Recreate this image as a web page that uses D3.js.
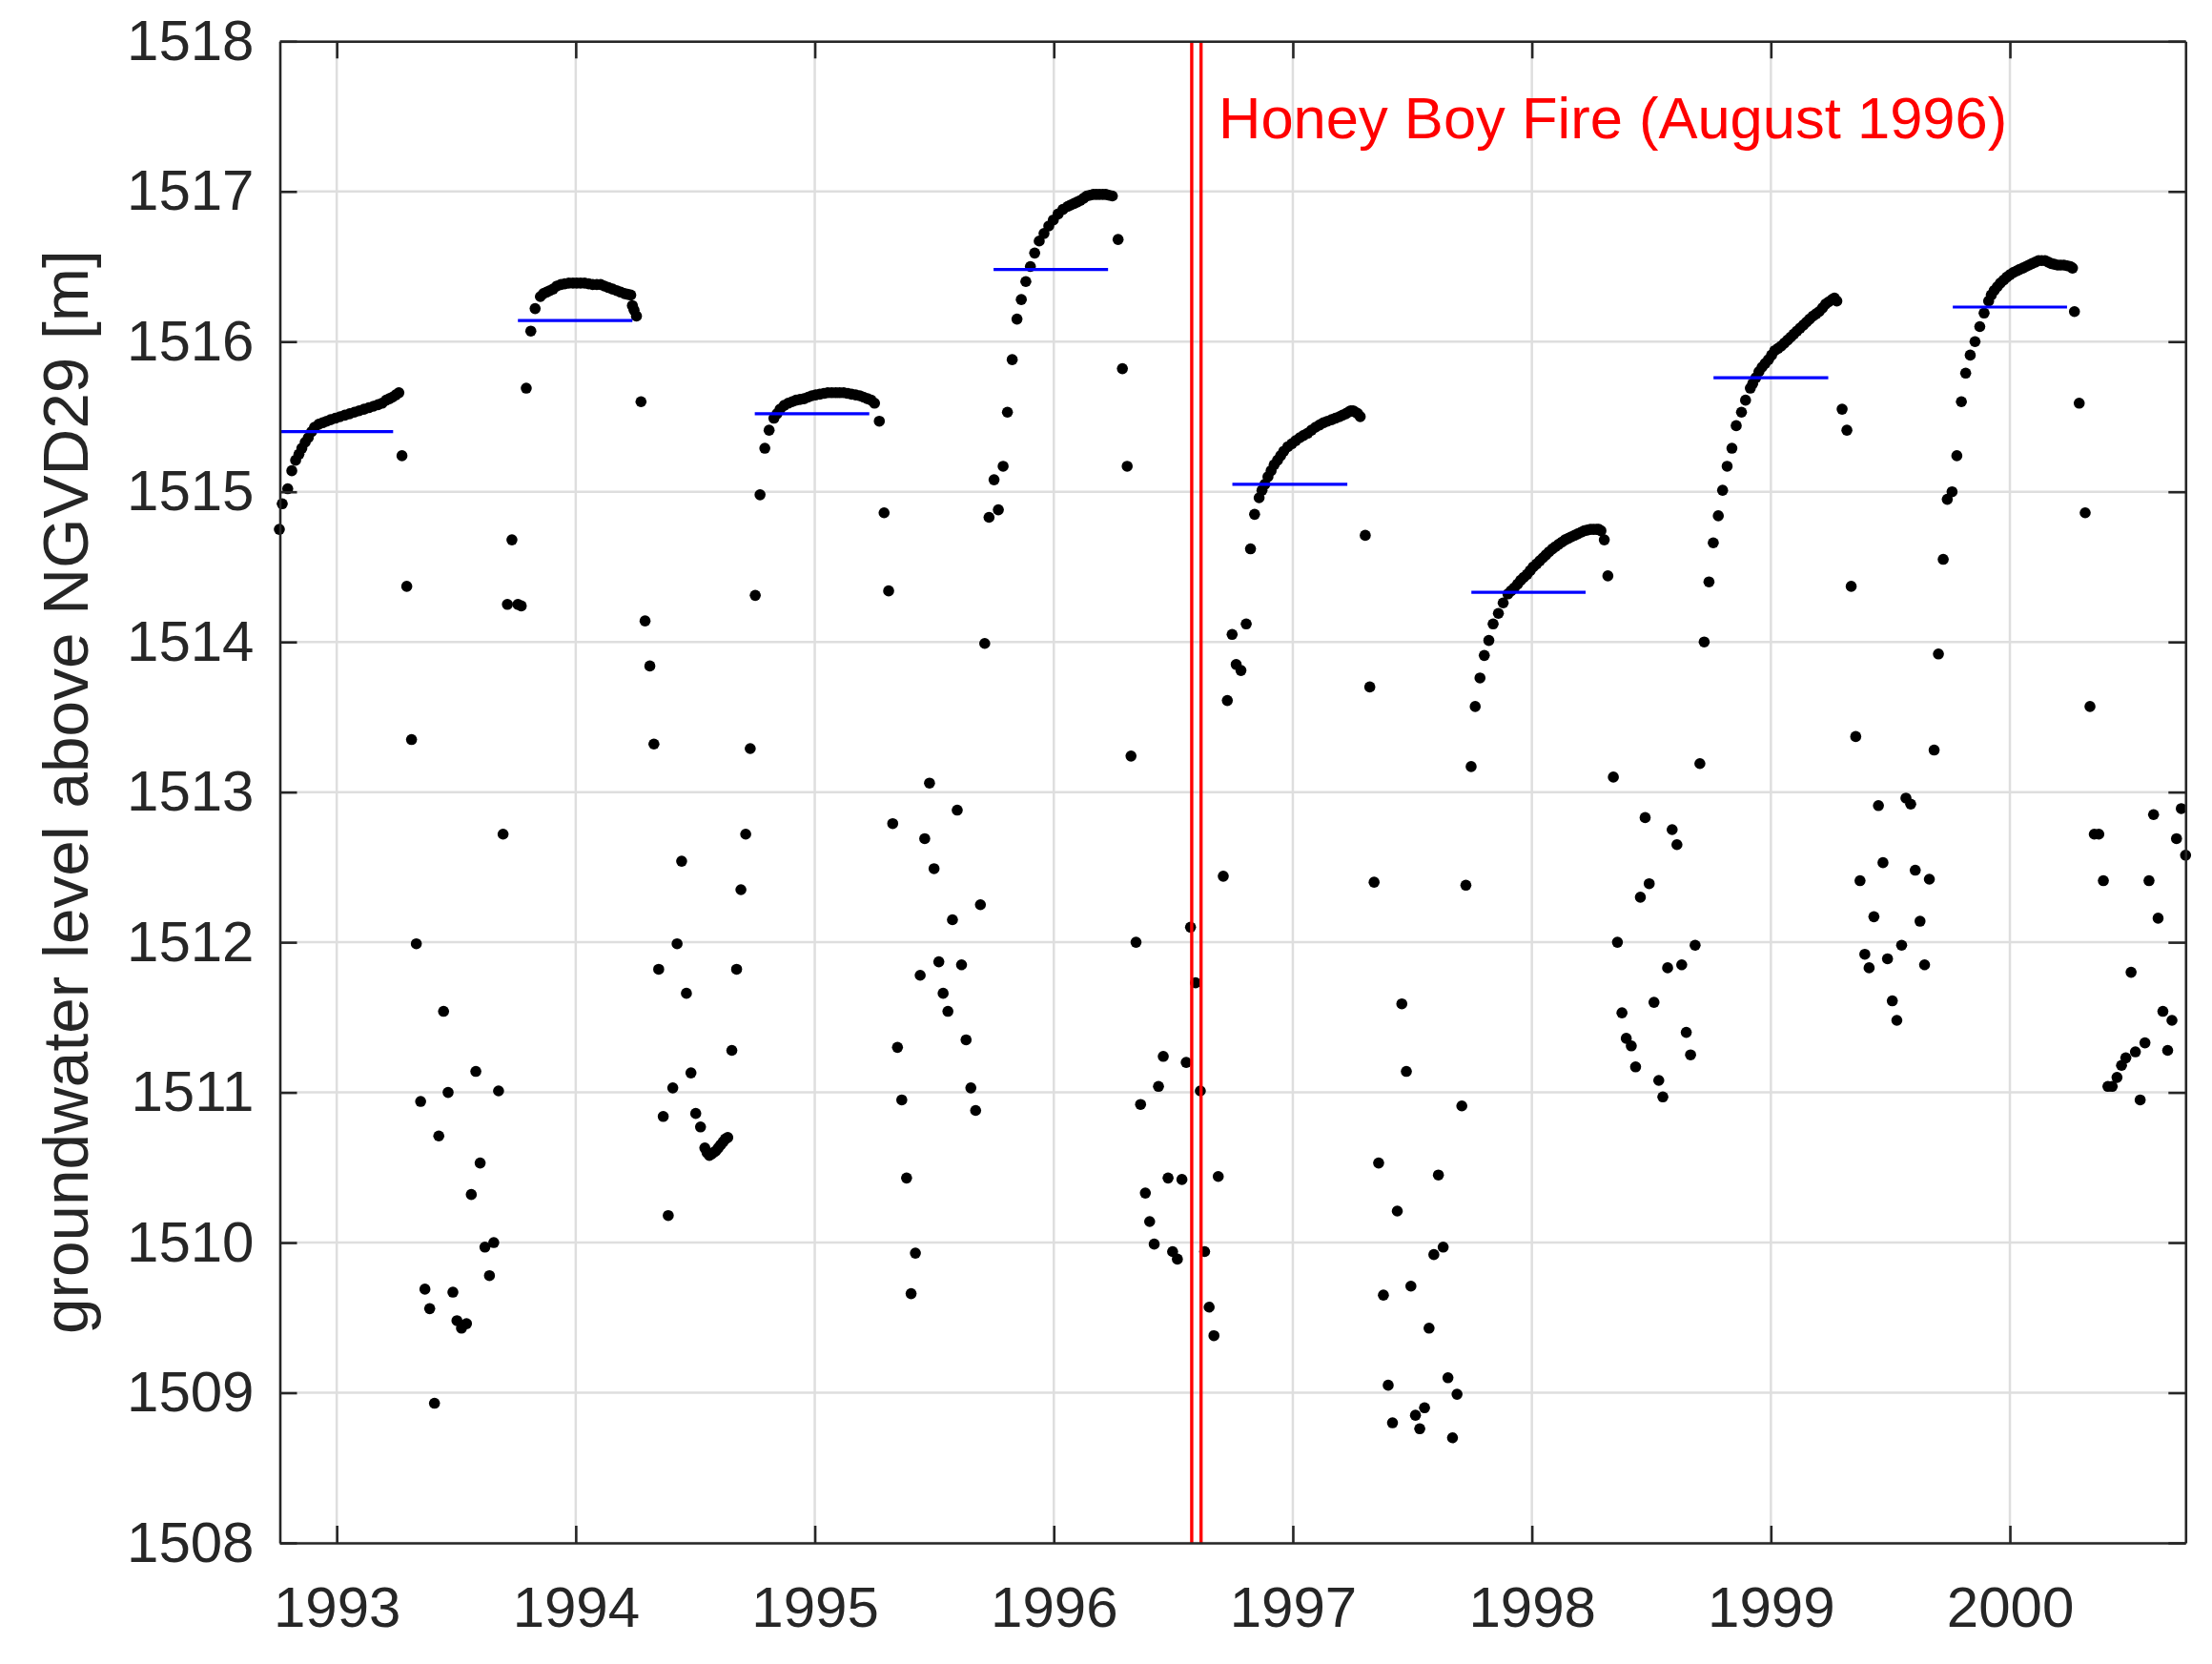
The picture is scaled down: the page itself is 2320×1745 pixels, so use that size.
<!DOCTYPE html>
<html><head><meta charset="utf-8">
<script src="https://cdn.jsdelivr.net/npm/d3@7"></script>
<style>html,body{margin:0;padding:0;background:#fff}</style>
</head><body>
<svg id="chart" width="2320" height="1745"></svg>
<script>
// ---- DATA (decimal year, groundwater level in m above NGVD29) ----
const wy1993 = [
[1992.760,1514.75],[1992.772,1514.92],[1992.795,1515.02],[1992.812,1515.14],[1992.828,1515.21],[1992.842,1515.25],[1992.854,1515.29],[1992.868,1515.33],[1992.881,1515.36],[1992.895,1515.40],[1992.907,1515.43],[1992.925,1515.45],[1992.941,1515.46],[1992.958,1515.47],[1992.974,1515.48],[1992.994,1515.49],[1993.014,1515.50],[1993.034,1515.51],[1993.054,1515.52],[1993.074,1515.53],[1993.094,1515.54],[1993.114,1515.55],[1993.134,1515.56],[1993.154,1515.57],[1993.173,1515.58],[1993.190,1515.59],[1993.207,1515.61],[1993.220,1515.62],[1993.233,1515.63],[1993.247,1515.645],[1993.260,1515.66],
[1993.273,1515.24],[1993.293,1514.37],[1993.313,1513.35],[1993.333,1511.99],[1993.351,1510.94],[1993.369,1509.69],[1993.389,1509.56],[1993.409,1508.93],[1993.427,1510.71],[1993.447,1511.54],[1993.466,1511.00],[1993.486,1509.67],[1993.503,1509.48],[1993.522,1509.43],[1993.543,1509.46],[1993.563,1510.32],[1993.582,1511.14],[1993.600,1510.53],[1993.620,1509.97],[1993.639,1509.78],[1993.657,1510.00],[1993.677,1511.01],[1993.696,1512.72],[1993.714,1514.25],[1993.733,1514.68],[1993.758,1514.25],[1993.772,1514.24]
];
const wy1994 = [
[1993.793,1515.69],[1993.812,1516.07],[1993.830,1516.22],[1993.852,1516.30],[1993.865,1516.32],[1993.878,1516.33],[1993.892,1516.34],[1993.905,1516.35],[1993.921,1516.37],[1993.938,1516.38],[1993.954,1516.385],[1993.971,1516.39],[1993.988,1516.39],[1994.004,1516.39],[1994.020,1516.39],[1994.037,1516.39],[1994.054,1516.385],[1994.071,1516.38],[1994.088,1516.38],[1994.104,1516.38],[1994.120,1516.37],[1994.137,1516.36],[1994.154,1516.35],[1994.171,1516.34],[1994.188,1516.33],[1994.204,1516.32],[1994.217,1516.315],[1994.230,1516.31],[1994.237,1516.24],[1994.244,1516.21],[1994.254,1516.17],
[1994.273,1515.60],[1994.290,1514.14],[1994.310,1513.84],[1994.327,1513.32],[1994.347,1511.82],[1994.366,1510.84],[1994.387,1510.18],[1994.406,1511.03],[1994.424,1511.99],[1994.443,1512.54],[1994.463,1511.66],[1994.482,1511.13],[1994.502,1510.86],[1994.522,1510.77],[1994.540,1510.63],[1994.549,1510.60],[1994.559,1510.58],[1994.568,1510.59],[1994.576,1510.60],[1994.586,1510.61],[1994.596,1510.63],[1994.606,1510.65],[1994.616,1510.67],[1994.626,1510.69],[1994.636,1510.70],[1994.653,1511.28],[1994.673,1511.82],[1994.691,1512.35],[1994.711,1512.72],[1994.730,1513.29],[1994.751,1514.31]
];
const wy1995 = [
[1994.771,1514.98],[1994.791,1515.29],[1994.809,1515.41],[1994.829,1515.49],[1994.842,1515.52],[1994.855,1515.55],[1994.872,1515.575],[1994.889,1515.59],[1994.905,1515.60],[1994.922,1515.61],[1994.938,1515.615],[1994.955,1515.62],[1994.972,1515.63],[1994.988,1515.64],[1995.004,1515.645],[1995.021,1515.65],[1995.038,1515.655],[1995.054,1515.66],[1995.071,1515.66],[1995.088,1515.66],[1995.104,1515.66],[1995.121,1515.66],[1995.138,1515.655],[1995.154,1515.65],[1995.171,1515.645],[1995.188,1515.64],[1995.204,1515.63],[1995.221,1515.62],[1995.236,1515.61],[1995.250,1515.59],[1995.270,1515.47],
[1995.290,1514.86],[1995.309,1514.34],[1995.326,1512.79],[1995.346,1511.30],[1995.364,1510.95],[1995.384,1510.43],[1995.403,1509.66],[1995.421,1509.93],[1995.441,1511.78],[1995.460,1512.69],[1995.480,1513.06],[1995.499,1512.49],[1995.519,1511.87],[1995.537,1511.66],[1995.557,1511.54],[1995.576,1512.15],[1995.596,1512.88],[1995.614,1511.85],[1995.633,1511.35],[1995.653,1511.03],[1995.673,1510.88],[1995.693,1512.25],[1995.711,1513.99]
];
const wy1996 = [
[1995.729,1514.83],[1995.750,1515.08],[1995.768,1514.88],[1995.788,1515.17],[1995.806,1515.53],[1995.826,1515.88],[1995.846,1516.15],[1995.864,1516.28],[1995.883,1516.40],[1995.902,1516.50],[1995.920,1516.59],[1995.939,1516.67],[1995.959,1516.72],[1995.979,1516.77],[1995.998,1516.81],[1996.018,1516.85],[1996.038,1516.88],[1996.058,1516.90],[1996.071,1516.91],[1996.085,1516.92],[1996.098,1516.93],[1996.111,1516.94],[1996.125,1516.955],[1996.138,1516.97],[1996.151,1516.975],[1996.165,1516.98],[1996.178,1516.98],[1996.191,1516.98],[1996.205,1516.98],[1996.218,1516.98],[1996.231,1516.975],[1996.245,1516.97],
[1996.269,1516.68],[1996.287,1515.82],[1996.307,1515.17],[1996.323,1513.24],[1996.344,1512.00],[1996.363,1510.92],[1996.383,1510.33],[1996.401,1510.14],[1996.420,1509.99],[1996.438,1511.04],[1996.458,1511.24],[1996.478,1510.43],[1996.497,1509.94],[1996.517,1509.89],[1996.536,1510.42],[1996.554,1511.20],[1996.572,1512.10],[1996.593,1511.73],[1996.613,1511.01],[1996.631,1509.94],[1996.650,1509.57],[1996.670,1509.38],[1996.688,1510.44],[1996.709,1512.44],[1996.726,1513.61]
];
const wy1997 = [
[1996.746,1514.05],[1996.763,1513.85],[1996.783,1513.81],[1996.805,1514.12],[1996.823,1514.62],[1996.840,1514.85],[1996.859,1514.96],[1996.871,1515.01],[1996.883,1515.05],[1996.896,1515.10],[1996.909,1515.14],[1996.922,1515.18],[1996.936,1515.21],[1996.949,1515.24],[1996.962,1515.27],[1996.979,1515.30],[1996.996,1515.32],[1997.012,1515.34],[1997.029,1515.36],[1997.045,1515.375],[1997.062,1515.39],[1997.078,1515.41],[1997.095,1515.43],[1997.112,1515.445],[1997.128,1515.46],[1997.145,1515.47],[1997.162,1515.48],[1997.178,1515.49],[1997.195,1515.50],[1997.208,1515.51],[1997.222,1515.52],[1997.232,1515.53],[1997.242,1515.54],[1997.252,1515.54],[1997.262,1515.53],[1997.272,1515.52],[1997.282,1515.50],
[1997.303,1514.71],[1997.322,1513.70],[1997.340,1512.40],[1997.359,1510.53],[1997.379,1509.65],[1997.399,1509.05],[1997.417,1508.80],[1997.437,1510.21],[1997.456,1511.59],[1997.475,1511.14],[1997.494,1509.71],[1997.513,1508.85],[1997.531,1508.76],[1997.551,1508.90],[1997.570,1509.43],[1997.590,1509.92],[1997.609,1510.45],[1997.629,1509.97],[1997.649,1509.10],[1997.668,1508.70],[1997.687,1508.99],[1997.707,1510.91],[1997.724,1512.38]
];
const wy1998 = [
[1997.746,1513.17],[1997.763,1513.57],[1997.783,1513.76],[1997.801,1513.91],[1997.820,1514.01],[1997.838,1514.12],[1997.860,1514.19],[1997.880,1514.26],[1997.900,1514.32],[1997.913,1514.34],[1997.926,1514.36],[1997.940,1514.385],[1997.953,1514.41],[1997.966,1514.43],[1997.980,1514.45],[1997.993,1514.475],[1998.006,1514.50],[1998.020,1514.52],[1998.033,1514.54],[1998.046,1514.56],[1998.059,1514.58],[1998.072,1514.60],[1998.086,1514.62],[1998.099,1514.635],[1998.112,1514.65],[1998.126,1514.665],[1998.139,1514.68],[1998.152,1514.69],[1998.165,1514.70],[1998.179,1514.71],[1998.192,1514.72],[1998.205,1514.73],[1998.219,1514.74],[1998.232,1514.745],[1998.245,1514.75],[1998.258,1514.75],[1998.271,1514.75],[1998.280,1514.75],[1998.289,1514.74],[1998.303,1514.68],[1998.318,1514.44],
[1998.341,1513.10],[1998.358,1512.00],[1998.377,1511.53],[1998.395,1511.36],[1998.416,1511.31],[1998.434,1511.17],[1998.454,1512.30],[1998.474,1512.83],[1998.491,1512.39],[1998.511,1511.60],[1998.531,1511.08],[1998.548,1510.97],[1998.568,1511.83],[1998.587,1512.75],[1998.607,1512.65],[1998.627,1511.85],[1998.646,1511.40],[1998.664,1511.25],[1998.683,1511.98],[1998.703,1513.19]
];
const wy1999 = [
[1998.721,1514.00],[1998.741,1514.40],[1998.759,1514.66],[1998.780,1514.84],[1998.798,1515.01],[1998.817,1515.17],[1998.837,1515.29],[1998.855,1515.44],[1998.877,1515.53],[1998.894,1515.61],[1998.914,1515.69],[1998.924,1515.72],[1998.937,1515.76],[1998.950,1515.80],[1998.963,1515.83],[1998.976,1515.855],[1998.990,1515.88],[1999.003,1515.91],[1999.016,1515.94],[1999.030,1515.955],[1999.043,1515.97],[1999.056,1515.99],[1999.070,1516.01],[1999.083,1516.03],[1999.096,1516.05],[1999.109,1516.07],[1999.122,1516.09],[1999.136,1516.11],[1999.149,1516.13],[1999.162,1516.15],[1999.176,1516.17],[1999.189,1516.185],[1999.202,1516.20],[1999.216,1516.225],[1999.229,1516.25],[1999.242,1516.265],[1999.256,1516.28],[1999.266,1516.29],[1999.276,1516.27],
[1999.298,1515.55],[1999.318,1515.41],[1999.336,1514.37],[1999.355,1513.37],[1999.373,1512.41],[1999.393,1511.92],[1999.411,1511.83],[1999.431,1512.17],[1999.450,1512.91],[1999.469,1512.53],[1999.488,1511.89],[1999.508,1511.61],[1999.527,1511.48],[1999.547,1511.98],[1999.565,1512.96],[1999.585,1512.92],[1999.604,1512.48],[1999.624,1512.14],[1999.643,1511.85],[1999.663,1512.42],[1999.683,1513.28]
];
const wy2000 = [
[1999.701,1513.92],[1999.721,1514.55],[1999.738,1514.95],[1999.758,1515.00],[1999.778,1515.24],[1999.797,1515.60],[1999.815,1515.79],[1999.834,1515.91],[1999.854,1516.00],[1999.874,1516.10],[1999.892,1516.19],[1999.911,1516.27],[1999.922,1516.31],[1999.934,1516.34],[1999.947,1516.365],[1999.960,1516.39],[1999.974,1516.41],[1999.987,1516.43],[2000.000,1516.445],[2000.014,1516.46],[2000.027,1516.47],[2000.040,1516.48],[2000.054,1516.49],[2000.067,1516.50],[2000.080,1516.51],[2000.093,1516.52],[2000.107,1516.53],[2000.120,1516.54],[2000.133,1516.54],[2000.147,1516.54],[2000.160,1516.53],[2000.173,1516.52],[2000.186,1516.515],[2000.199,1516.51],[2000.212,1516.51],[2000.226,1516.51],[2000.240,1516.505],[2000.253,1516.50],[2000.262,1516.49],
[2000.270,1516.20],[2000.290,1515.59],[2000.315,1514.86],[2000.335,1513.57],[2000.353,1512.72],[2000.372,1512.72],[2000.391,1512.41],[2000.410,1511.04],[2000.428,1511.04],[2000.448,1511.10],[2000.467,1511.18],[2000.485,1511.23],[2000.507,1511.80],[2000.525,1511.27],[2000.545,1510.95],[2000.565,1511.33],[2000.582,1512.41],[2000.601,1512.85],[2000.620,1512.16],[2000.640,1511.54],[2000.660,1511.28],[2000.678,1511.48],[2000.697,1512.69],[2000.717,1512.89],[2000.735,1512.58]
];

// Wet-season mean levels (blue segments)
const meanStart = [1992.761, 1993.758, 1994.749, 1995.748, 1996.747, 1997.747, 1998.760, 1999.761];
const meanEnd   = [1993.236, 1994.237, 1995.228, 1996.227, 1997.228, 1998.225, 1999.240, 2000.239];
const meanLevel = [1515.40, 1516.14, 1515.52, 1516.48, 1515.05, 1514.33, 1515.76, 1516.23];

// Fire markers
const fireLines = [1996.577, 1996.616];
const fireLabel = "Honey Boy Fire (August 1996)";

// Axes
const xDomain = [1992.762, 2000.735];
const yDomain = [1508, 1518];
const xTicks = [1993, 1994, 1995, 1996, 1997, 1998, 1999, 2000];
const yTicks = [1508, 1509, 1510, 1511, 1512, 1513, 1514, 1515, 1516, 1517, 1518];
const yLabel = "groundwater level above NGVD29 [m]";

// ---- DRAWING ----
const FONT = "'Liberation Sans', Arial, Helvetica, sans-serif";
const AX = "#262626";
const L = 293.5, R = 2292.3, T = 43.3, B = 1618;

const svg = d3.select("#chart");
svg.append("rect").attr("width", 2320).attr("height", 1745).attr("fill", "#fff");

const x = d3.scaleLinear().domain(xDomain).range([L, R]);
const y = d3.scaleLinear().domain(yDomain).range([B, T]);

// grid
const grid = svg.append("g");
grid.selectAll("line.gx").data(xTicks).join("line")
  .attr("x1", d => x(d)).attr("x2", d => x(d)).attr("y1", T).attr("y2", B)
  .attr("stroke", "#dedede").attr("stroke-width", 2.5);
grid.selectAll("line.gy").data(yTicks).join("line")
  .attr("x1", L).attr("x2", R).attr("y1", d => y(d)).attr("y2", d => y(d))
  .attr("stroke", "#dedede").attr("stroke-width", 2.5);

// points
const allYears = [wy1993, wy1994, wy1995, wy1996, wy1997, wy1998, wy1999, wy2000];
const pts = svg.append("g");
allYears.forEach(series => {
  pts.append("g").selectAll("circle").data(series).join("circle")
    .attr("cx", d => x(d[0])).attr("cy", d => y(d[1])).attr("r", 5.8)
    .attr("fill", "#000");
});

// mean lines
const means = meanLevel.map((v, i) => ({s: meanStart[i], e: meanEnd[i], v}));
svg.append("g").selectAll("line").data(means).join("line")
  .attr("x1", d => x(d.s)).attr("x2", d => x(d.e))
  .attr("y1", d => y(d.v)).attr("y2", d => y(d.v))
  .attr("stroke", "#0000ff").attr("stroke-width", 3.2);

// fire lines
svg.append("g").selectAll("line").data(fireLines).join("line")
  .attr("x1", d => x(d)).attr("x2", d => x(d)).attr("y1", T).attr("y2", B)
  .attr("stroke", "#ff0000").attr("stroke-width", 3.4);

svg.append("text").attr("x", 1278).attr("y", 145)
  .attr("font-family", FONT).attr("font-size", 61.5).attr("fill", "#ff0000")
  .text(fireLabel);

// axes
function styleAxis(g) {
  g.attr("font-family", FONT).attr("font-size", 60).attr("color", AX);
  g.select(".domain").attr("stroke-width", 2.6);
  g.selectAll(".tick line").attr("stroke-width", 2.6);
  g.selectAll(".tick text").attr("fill", AX);
}
svg.append("g").attr("transform", `translate(0,${B})`)
  .call(d3.axisBottom(x).tickValues(xTicks).tickFormat(d3.format("d"))
        .tickSizeInner(-18).tickSizeOuter(0).tickPadding(45))
  .call(styleAxis);
svg.append("g").attr("transform", `translate(0,${T})`)
  .call(d3.axisTop(x).tickValues(xTicks).tickFormat("")
        .tickSizeInner(-18).tickSizeOuter(0))
  .call(styleAxis);
svg.append("g").attr("transform", `translate(${L},0)`)
  .call(d3.axisLeft(y).tickValues(yTicks).tickFormat(d3.format("d"))
        .tickSizeInner(-18).tickSizeOuter(0).tickPadding(27))
  .call(styleAxis);
svg.append("g").attr("transform", `translate(${R},0)`)
  .call(d3.axisRight(y).tickValues(yTicks).tickFormat("")
        .tickSizeInner(-18).tickSizeOuter(0))
  .call(styleAxis);

// y label
svg.append("text")
  .attr("transform", `translate(92,${(T + B) / 2}) rotate(-90)`)
  .attr("text-anchor", "middle")
  .attr("font-family", FONT).attr("font-size", 67.5).attr("fill", AX)
  .text(yLabel);
</script>
</body></html>
